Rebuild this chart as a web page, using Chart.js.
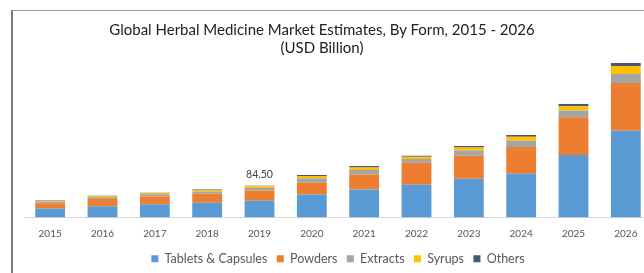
<!DOCTYPE html>
<html>
<head>
<meta charset="utf-8">
<script src="https://cdn.jsdelivr.net/npm/chart.js@4"></script>
<style>
  html, body { margin: 0; padding: 0; background: #fff; overflow: hidden; }
  #wrap { position: relative; width: 644px; height: 273px; overflow: hidden; }
  #chart { position: absolute; left: 0; top: 0; }
  #frame { position: absolute; left: 11px; top: 10px; width: 700px; height: 300px;
           border-left: 2px solid #7a7a7a; border-top: 1px solid #9a9a9a; pointer-events: none; }
  #title { position: absolute; left: 0; top: 20px; width: 644px; text-align: center;
           font: 15px/18px Lato, sans-serif; color: #222; }
</style>
</head>
<body>
<div id="wrap">
  <canvas id="chart" width="660" height="275"></canvas>
  <div id="frame"></div>
  <div id="title">Global Herbal Medicine Market Estimates, By Form, 2015 - 2026<br>(USD Billion)</div>
</div>
<script>
// DATA (USD Billion)
const years = ["2015", "2016", "2017", "2018", "2019", "2020", "2021", "2022", "2023", "2024", "2025", "2026"];
const tablets  = [24, 30, 35, 39, 44.5, 61, 74, 87, 103, 116, 166, 230];
const powders  = [14, 19, 21, 24, 27, 32, 40, 58, 61, 71, 100, 127];
const extracts = [4, 5, 6, 6, 7, 11, 12, 10, 14, 17, 18, 24];
const syrups   = [2, 3, 3, 4, 4.5, 6, 7, 6, 8, 10, 11, 21];
const others   = [1, 1, 1, 1, 1.5, 3, 4, 3, 4, 5, 6, 8];
const totalLabels = ["", "", "", "", "84.50", "", "", "", "", "", "", ""];

const ctx = document.getElementById("chart").getContext("2d");

// label above the stack
const totalLabelPlugin = {
  id: "totalLabel",
  afterDatasetsDraw(chart) {
    const c = chart.ctx;
    const meta = chart.getDatasetMeta(chart.data.datasets.length - 1);
    c.save();
    c.font = "10.5px Lato";
    c.fillStyle = "#404040";
    c.textAlign = "center";
    c.textBaseline = "bottom";
    meta.data.forEach((bar, i) => {
      if (totalLabels[i]) c.fillText(totalLabels[i], bar.x, bar.y - 6);
    });
    c.restore();
  },
};

const chart = new Chart(ctx, {
  type: "bar",
  data: {
    labels: years,
    datasets: [
      { label: "Tablets & Capsules", data: tablets, backgroundColor: "#5b9bd5" },
      { label: "Powders", data: powders, backgroundColor: "#ed7d31" },
      { label: "Extracts", data: extracts, backgroundColor: "#a5a5a5" },
      { label: "Syrups", data: syrups, backgroundColor: "#ffc000" },
      { label: "Others", data: others, backgroundColor: "#4a5677" },
    ],
  },
  options: {
    responsive: false,
    animation: false,
    layout: { padding: { left: 24, right: 8, top: 60, bottom: 0 } },
    datasets: { bar: { categoryPercentage: 1, barPercentage: 0.57 } },
    scales: {
      x: {
        stacked: true,
        grid: { display: false, drawTicks: false },
        border: { display: true, color: "#d9d9d9" },
        ticks: { color: "#555", font: { family: "Lato", size: 10 }, padding: 10 },
      },
      y: {
        stacked: true,
        display: false,
        min: 0,
        max: 418,
      },
    },
    plugins: {
      legend: {
        position: "bottom",
        labels: {
          boxWidth: 7,
          boxHeight: 7,
          padding: 3,
          color: "#595959",
          font: { family: "Lato", size: 12.5 },
          generateLabels(chart) {
            const items = Chart.defaults.plugins.legend.labels.generateLabels(chart);
            items.forEach((it, i) => {
              if (i < items.length - 1) it.text = it.text + "  ";
            });
            return items;
          },
        },
      },
      title: { display: false },
      tooltip: { enabled: false },
    },
  },
  plugins: [totalLabelPlugin],
});
</script>
</body>
</html>
